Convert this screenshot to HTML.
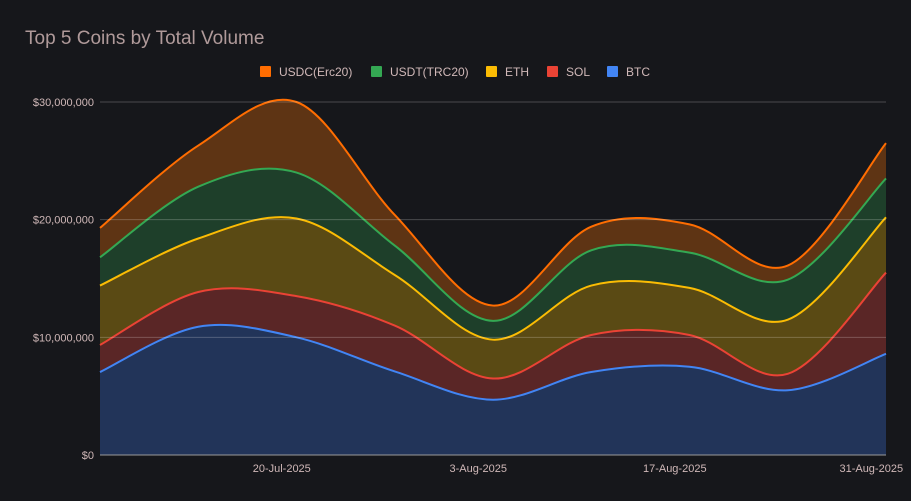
<!DOCTYPE html>
<html><head><meta charset="utf-8"><style>
body{margin:0;background:#16171b;}
svg{display:block;font-family:"Liberation Sans",sans-serif;}
</style></head><body>
<svg id="chart" width="911" height="501">
<rect width="911" height="501" fill="#16171b"/>
<text x="25" y="44" font-size="19" fill="#b09a9a">Top 5 Coins by Total Volume</text>
<g id="areas"></g><g id="grid"></g><g id="axes"></g><g id="legend"></g>
</svg>
<script>
const dates=["6-Jul","13-Jul","20-Jul","27-Jul","3-Aug","10-Aug","17-Aug","24-Aug","31-Aug"];
const seriesNames=["BTC","SOL","ETH","USDT(TRC20)","USDC(Erc20)"];
const btc=[7.05,10.9,10.0,7.1,4.7,7.05,7.5,5.5,8.6];
const sol=[2.3,2.95,3.5,3.9,1.8,3.15,2.7,1.4,6.9];
const eth=[5.05,4.55,6.6,4.3,3.3,4.2,4.0,4.6,4.7];
const usdt=[2.4,4.4,3.9,2.5,1.6,3.0,3.0,3.4,3.3];
const usdc=[2.5,3.5,6.0,2.6,1.3,2.0,2.4,1.2,3.0];
const yTicks=[0,10,20,30];
const xTickLabels=["20-Jul-2025","3-Aug-2025","17-Aug-2025","31-Aug-2025"];
const xTickIdx=[1.85,3.85,5.85,7.85];
const lineColors=["#4285f4","#ea4335","#fbbc04","#34a853","#ff6d01"];
const fillColors=["#223459","#5a2626","#5a4a14","#1e3f2a","#5e3414"];
const X0=100,X1=886,Y0=455,Y30=102;
const xs=i=>X0+(X1-X0)*i/(dates.length-1);
const ys=v=>Y0-(Y0-Y30)*v/30;
const NS="http://www.w3.org/2000/svg";
function mk(t,a,p){const e=document.createElementNS(NS,t);for(const k in a)e.setAttribute(k,a[k]);p.appendChild(e);return e;}
const grid=document.getElementById('grid'),axes=document.getElementById('axes');
yTicks.forEach(v=>{
 const l=mk('line',{x1:X0,x2:X1,y1:ys(v),y2:ys(v),stroke:v==0?'#9a9a9a':'rgba(255,255,255,0.22)',"stroke-width":1},grid);
 
 
 const t=mk('text',{x:94,y:ys(v)+4,"text-anchor":"end","font-size":11,fill:'#d0b8b8'},axes);
 t.textContent='$'+(v*1000000).toLocaleString('en-US');
 
 
});
xTickLabels.forEach((s,k)=>{
 const t=mk('text',{x:Math.min(xs(xTickIdx[k]),872),y:472,"text-anchor":"middle","font-size":11,fill:'#d0b8b8'},axes);
 t.textContent=s;
 
 
});
const raw=[btc,sol,eth,usdt,usdc];
const cum=[];let acc=btc.map(()=>0);
raw.forEach(s=>{acc=acc.map((a,i)=>a+s[i]);cum.push(acc.slice());});
function curve(pts,start){
 let d=start?'M'+pts[0][0]+','+pts[0][1]:'L'+pts[0][0]+','+pts[0][1];
 for(let i=0;i<pts.length-1;i++){
  const p0=pts[Math.max(i-1,0)],p1=pts[i],p2=pts[i+1],p3=pts[Math.min(i+2,pts.length-1)];
  const c1=[p1[0]+(p2[0]-p0[0])/6,p1[1]+(p2[1]-p0[1])/6],c2=[p2[0]-(p3[0]-p1[0])/6,p2[1]-(p3[1]-p1[1])/6];
  d+=' C'+c1+' '+c2+' '+p2;
 }
 return d;
}
const areas=document.getElementById('areas');
cum.forEach((c,k)=>{
 const top=c.map((v,i)=>[xs(i),ys(v)]);
 const bot=(k==0?c.map(()=>0):cum[k-1]).map((v,i)=>[xs(i),ys(v)]).reverse();
 const a=mk('path',{d:curve(top,true)+' '+curve(bot,false)+'Z',fill:fillColors[k]},areas);
 
 
});
cum.forEach((c,k)=>{
 const top=c.map((v,i)=>[xs(i),ys(v)]);
 const l=mk('path',{d:curve(top,true),fill:'none',stroke:lineColors[k],"stroke-width":2},areas);
 
 
});
const lg=document.getElementById('legend');
const legX=[260,371,486,547,607];
[4,3,2,1,0].forEach((k,j)=>{
 const g=mk('g',{},lg);
 
 
 mk('rect',{x:legX[j],y:66,width:11,height:11,rx:1,fill:lineColors[k]},g);
 const t=mk('text',{x:legX[j]+19,y:76,"font-size":12,fill:'#d0b8b8'},g);
 t.textContent=seriesNames[k];
});
</script>
</body></html>
